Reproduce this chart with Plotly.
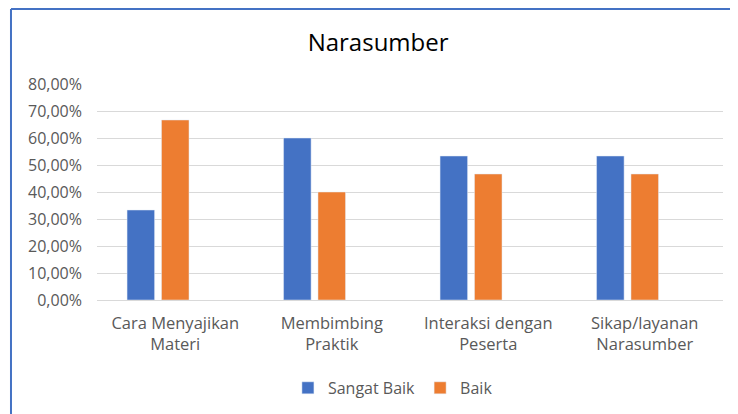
import plotly.graph_objects as go

categories = ["Cara Menyajikan<br>Materi", "Membimbing<br>Praktik",
              "Interaksi dengan<br>Peserta", "Sikap/layanan<br>Narasumber"]
sangat_baik = [0.3333, 0.6000, 0.5333, 0.5333]
baik = [0.6667, 0.4000, 0.4667, 0.4667]
kosong = [None, None, None, None]

fig = go.Figure()
fig.add_trace(go.Bar(x=categories, y=sangat_baik, name="Sangat Baik",
                     marker=dict(color="#4472C4")))
fig.add_trace(go.Bar(x=categories, y=baik, name="Baik",
                     marker=dict(color="#ED7D31")))
# empty third series keeps the bars shifted left like the source sheet
fig.add_trace(go.Bar(x=categories, y=kosong, name="", showlegend=False,
                     hoverinfo="skip"))

# page body adds 8px, so the figure is 730x406 inside the 738x414 window
fig.update_layout(
    width=730, height=406,
    margin=dict(l=89, r=15, t=76, b=114, autoexpand=False),
    paper_bgcolor="white", plot_bgcolor="white",
    separators=",.",
    barmode="group", bargap=0.34, bargroupgap=0.2,
    font=dict(family="Open Sans, sans-serif", size=15, color="#595959"),
    title=dict(text="Narasumber", x=0.507, xanchor="center", y=0.914, yanchor="middle",
               font=dict(size=24, color="#000000")),
    legend=dict(orientation="h", x=0.305, xanchor="left", y=-0.407, yanchor="middle",
                font=dict(size=16, color="#595959"), itemwidth=30),
    showlegend=True,
)
fig.update_yaxes(range=[0, 0.8], dtick=0.1, tickformat=".2%",
                 tickfont=dict(size=16, color="#595959"),
                 showgrid=True, gridcolor="#D9D9D9", gridwidth=1,
                 zeroline=False, showline=False, ticks="", ticklabelstandoff=14)
fig.update_xaxes(showline=True, linecolor="#D9D9D9", linewidth=1, ticks="",
                 tickfont=dict(size=16.5, color="#595959"), ticklabelstandoff=8)

# chart frame border (left and top visible in the crop)
fig.add_shape(type="line", xref="paper", yref="paper", x0=-0.1374, x1=-0.1374,
              y0=-0.53, y1=1.347, line=dict(color="#4472C4", width=2))
fig.add_shape(type="line", xref="paper", yref="paper", x0=-0.1374, x1=1.03,
              y0=1.347, y1=1.347, line=dict(color="#4472C4", width=2))

fig.write_html("out.html")
